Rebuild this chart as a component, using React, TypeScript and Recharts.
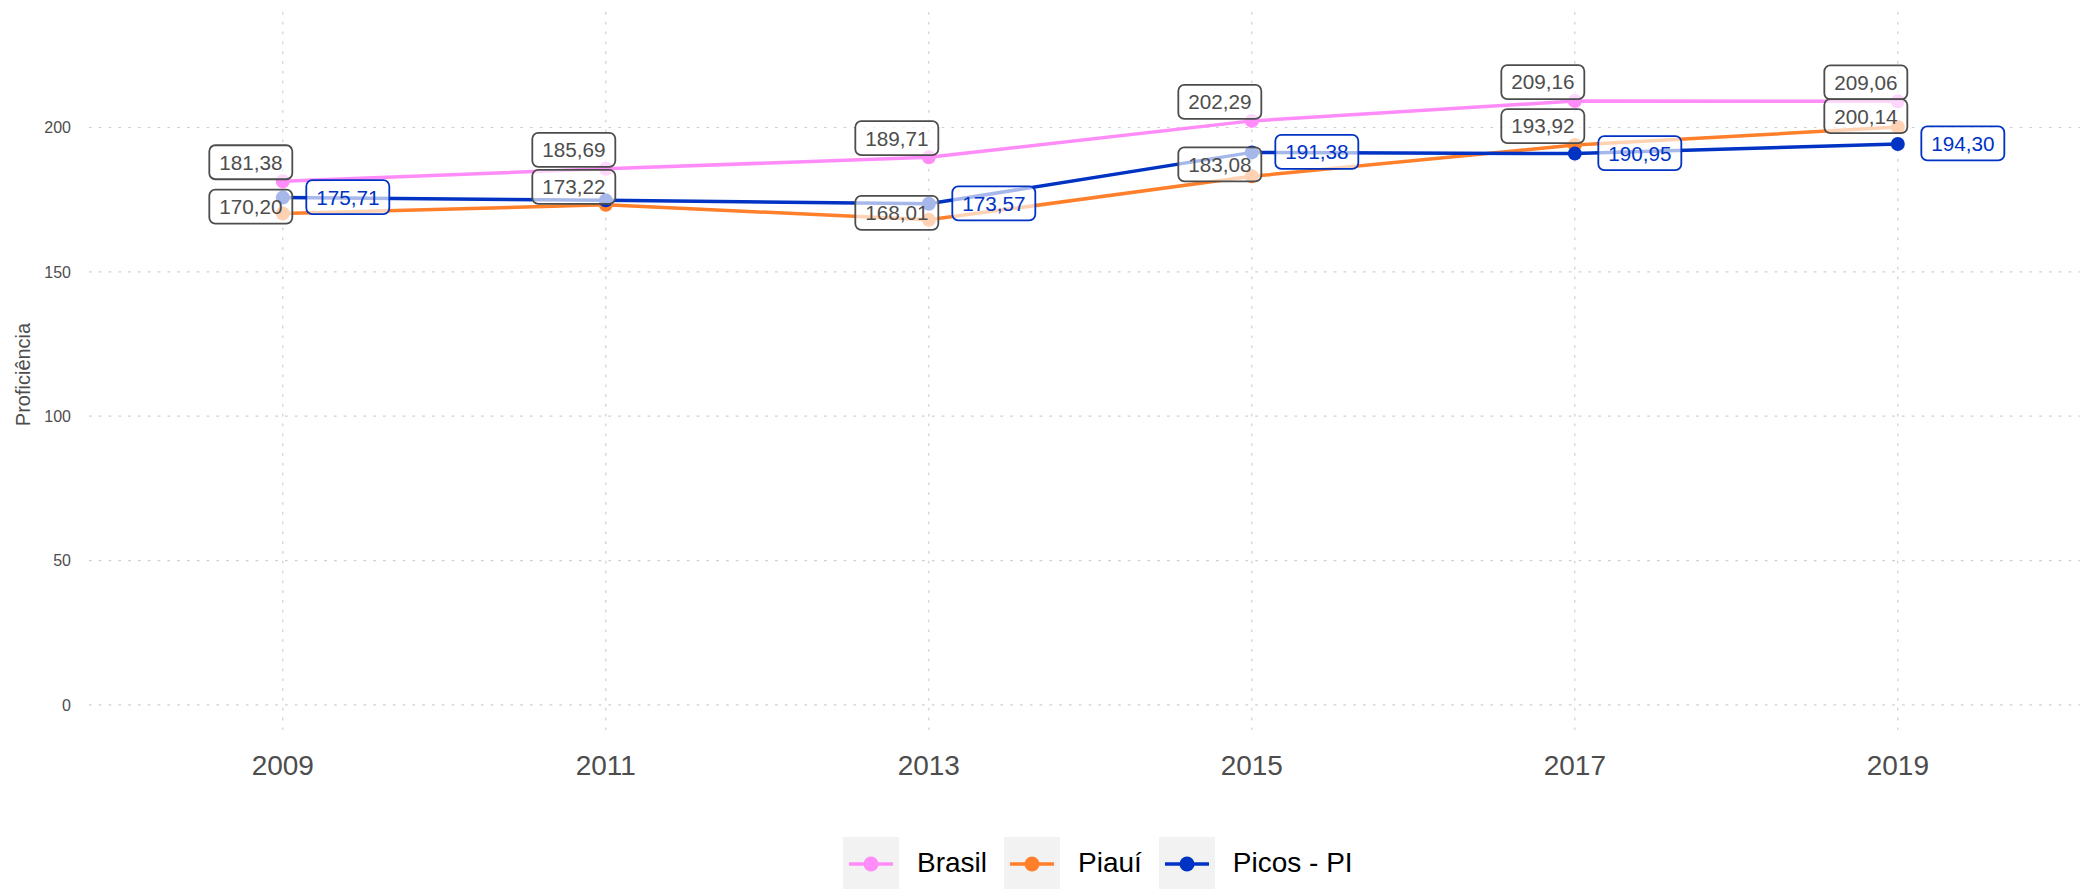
import React from "react";
import {
  LineChart,
  Line,
  XAxis,
  YAxis,
  CartesianGrid,
  LabelList,
} from "recharts";

const years = [2009, 2011, 2013, 2015, 2017, 2019];
const brasil = [181.38, 185.69, 189.71, 202.29, 209.16, 209.06];
const piaui = [170.2, 173.22, 168.01, 183.08, 193.92, 200.14];
const picos = [175.71, 174.76, 173.57, 191.38, 190.95, 194.3];
// ggrepel drops the Picos 2011 label in the original
const picosLabelShown = [true, false, true, true, true, true];
const piauiLabelDy = [-7, -18, -7, -12, -19, -11];
const yTicks = [0, 50, 100, 150, 200];

const data = years.map((year, i) => ({
  year,
  brasil: brasil[i],
  piaui: piaui[i],
  picos: picos[i],
}));

const FONT = "'Liberation Sans', Arial, Helvetica, sans-serif";
const PINK = "#ff8cf8";
const ORANGE = "#ff7f2a";
const BLUE = "#0033c4";
const GREY = "#4d4d4d";

const fmt = (v: number) => v.toFixed(2).replace(".", ",");

const makeLabel =
  (color: string, dx: number, dyFor: (i: number) => number, show?: boolean[]) =>
  (props: any) => {
    const { x, y, value, index } = props;
    if (show && !show[index]) return null;
    const cx = x + dx;
    const cy = y + dyFor(index);
    return (
      <g>
        <rect
          x={cx - 41.5}
          y={cy - 17}
          width={83}
          height={34}
          rx={6}
          fill="#ffffff"
          fillOpacity={0.65}
          stroke={color}
          strokeWidth={1.8}
        />
        <text
          x={cx}
          y={cy}
          dy="0.36em"
          textAnchor="middle"
          fontFamily={FONT}
          fontSize={20.7}
          fill={color}
        >
          {fmt(value)}
        </text>
      </g>
    );
  };

const series = [
  { name: "Brasil", color: PINK },
  { name: "Piauí", color: ORANGE },
  { name: "Picos - PI", color: BLUE },
];

const ChartLegend = () => (
  <div
    style={{
      position: "absolute",
      top: 837,
      left: 843,
      display: "flex",
      alignItems: "center",
      fontFamily: FONT,
      fontSize: 28,
      color: "#000",
    }}
  >
    {series.map((s) => (
      <div key={s.name} style={{ display: "flex", alignItems: "center", marginRight: 17 }}>
        <svg width={56} height={52} style={{ background: "#f2f2f2", display: "block" }}>
          <line x1={6} x2={50} y1={27} y2={27} stroke={s.color} strokeWidth={3.5} />
          <circle cx={28} cy={27} r={7.5} fill={s.color} />
        </svg>
        <span style={{ marginLeft: 18 }}>{s.name}</span>
      </div>
    ))}
  </div>
);

const App = () => {
  return (
    <div
      style={{
        position: "absolute",
        left: 0,
        top: 0,
        width: 2080,
        height: 889,
        background: "#fff",
        overflow: "hidden",
      }}
    >
      <LineChart
        width={2080}
        height={889}
        data={data}
        margin={{ top: 12, right: 0, left: 0, bottom: 112 }}
      >
        <CartesianGrid
          stroke="#cfcfcf"
          strokeWidth={1.2}
          strokeDasharray="2.7 7.1"
          verticalValues={years}
          horizontalValues={yTicks}
        />
        <XAxis
          dataKey="year"
          type="number"
          domain={[2007.8, 2020.128]}
          allowDataOverflow
          ticks={years}
          axisLine={false}
          tickLine={false}
          tickSize={0}
          tickMargin={18}
          height={40}
          tick={{ fontFamily: FONT, fontSize: 28, fill: GREY }}
        />
        <YAxis
          type="number"
          domain={[-11.1, 240]}
          allowDataOverflow
          ticks={yTicks}
          axisLine={false}
          tickLine={false}
          tickSize={0}
          tickMargin={18}
          width={89}
          tick={{ fontFamily: FONT, fontSize: 16, fill: GREY }}
          label={{
            content: (p: any) => {
              const vb = p.viewBox || { x: 0, y: 12, height: 724.7 };
              const tx = vb.x + 23;
              const ty = vb.y + vb.height / 2;
              return (
                <text
                  x={tx}
                  y={ty}
                  dy="0.36em"
                  transform={`rotate(-90 ${tx} ${ty})`}
                  textAnchor="middle"
                  fontFamily={FONT}
                  fontSize={20}
                  fill={GREY}
                >
                  Proficiência
                </text>
              );
            },
          }}
        />
        <Line
          dataKey="brasil"
          stroke={PINK}
          strokeWidth={3.5}
          dot={{ r: 7, fill: PINK, stroke: "none" }}
          activeDot={false}
          isAnimationActive={false}
        />
        <Line
          dataKey="piaui"
          stroke={ORANGE}
          strokeWidth={3.5}
          dot={{ r: 7, fill: ORANGE, stroke: "none" }}
          activeDot={false}
          isAnimationActive={false}
        />
        <Line
          dataKey="picos"
          stroke={BLUE}
          strokeWidth={3.5}
          dot={{ r: 7, fill: BLUE, stroke: "none" }}
          activeDot={false}
          isAnimationActive={false}
        />
        {/* label-only series so the boxes sit above every line */}
        <Line
          dataKey="brasil"
          stroke="none"
          dot={false}
          activeDot={false}
          legendType="none"
          isAnimationActive={false}
        >
          <LabelList dataKey="brasil" content={makeLabel(GREY, -32, () => -19)} />
        </Line>
        <Line
          dataKey="piaui"
          stroke="none"
          dot={false}
          activeDot={false}
          legendType="none"
          isAnimationActive={false}
        >
          <LabelList dataKey="piaui" content={makeLabel(GREY, -32, (i) => piauiLabelDy[i])} />
        </Line>
        <Line
          dataKey="picos"
          stroke="none"
          dot={false}
          activeDot={false}
          legendType="none"
          isAnimationActive={false}
        >
          <LabelList
            dataKey="picos"
            content={makeLabel(BLUE, 65, () => -0.5, picosLabelShown)}
          />
        </Line>
      </LineChart>
      <ChartLegend />
    </div>
  );
};

export default App;
